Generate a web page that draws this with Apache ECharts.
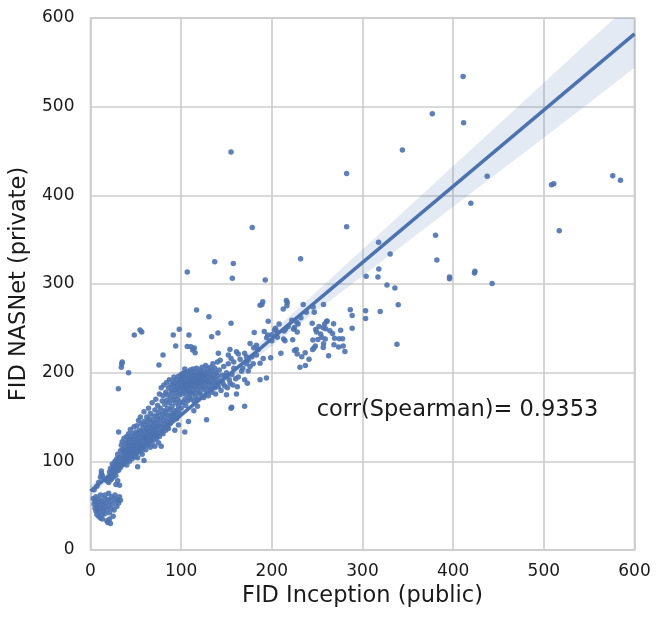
<!DOCTYPE html>
<html>
<head>
<meta charset="utf-8">
<title>FID Inception vs FID NASNet</title>
<script src="https://cdn.jsdelivr.net/npm/echarts@6/dist/echarts.min.js"></script>
<style>
  html, body { margin: 0; padding: 0; background: #fff; }
  #chart { width: 664px; height: 623px; }
</style>
</head>
<body>
<div id="chart"></div>
<script>
// points near the origin, below the start of the fit line
const originCluster = [
  [3,58],[4,52],[5,55],[5,47],[6,44],[6,60],[7,50],[7,40],[8,54],[8,46],[9,38],[9,57],[10,43],[10,50],
  [11,36],[11,62],[12,47],[12,55],[13,40],[13,35],[14,52],[14,44],[15,58],[15,48],[16,41],[16,62],
  [17,53],[18,46],[18,33],[19,57],[19,31],[20,50],[20,64],[21,35],[21,42],[22,30],[22,55],[23,47],
  [23,60],[24,52],[25,38],[26,45],[26,58],[27,62],[28,55],[29,49],[30,57],[31,53],[32,60],[33,56],
  [28,74],[30,78],[32,73],[12,86],[12,89],[13,84],[11,82],[18,78],[20,76],[23,80],[25,86],[15,80],
  [4,68],[7,72],[9,76]
];

// the dense band, x 20..160
const mainBand = [
  [20,82],[21,88],[22,79],[22,92],[23,85],[24,90],[24,97],[25,82],[26,94],[26,87],[27,100],[27,91],
  [28,84],[28,96],[29,103],[29,89],[30,94],[30,99],
  [30,108],[31,133],[31,90],[32,97],[32,104],[33,112],[33,93],[34,100],[34,118],[35,96],[35,107],
  [35,122],[36,103],[36,113],[37,98],[37,110],[37,126],[38,105],[38,116],[39,101],[39,120],[39,111],
  [40,107],[40,128],[40,96],
  [41,114],[41,103],[41,122],[42,109],[42,131],[42,118],[43,100],[43,112],[43,125],[44,106],[44,119],
  [44,136],[45,115],[45,109],[45,127],[46,103],[46,121],[46,113],[47,131],[47,117],[47,108],[48,124],
  [48,112],[48,139],[49,105],[49,118],[49,128],[50,114],[50,133],[50,121],
  [51,109],[51,126],[51,140],[52,117],[52,131],[52,104],[53,122],[53,113],[53,146],[54,128],[54,119],
  [54,135],[55,111],[55,124],[55,150],[56,133],[56,117],[56,142],[57,127],[57,108],[57,121],[58,138],
  [58,114],[58,130],[59,124],[59,145],[59,156],[60,119],[60,134],[60,127],[52,94],[59,101],
  [61,141],[61,113],[61,129],[62,123],[62,136],[62,150],[63,118],[63,131],[63,145],[64,127],[64,139],
  [64,160],[65,122],[65,134],[65,148],[66,116],[66,129],[66,154],[67,138],[67,125],[67,143],[68,132],
  [68,119],[68,166],[69,146],[69,128],[69,137],[70,124],[70,151],[70,141],[70,133],
  [71,129],[71,158],[71,117],[72,144],[72,136],[72,170],[73,126],[73,151],[73,139],[74,132],[74,163],
  [74,147],[75,121],[75,140],[75,155],[76,135],[76,176],[76,128],[77,149],[77,143],[77,160],[78,133],
  [78,117],[78,183],[79,153],[79,139],[79,168],[80,146],[80,131],[80,174],
  [81,157],[81,138],[81,186],[82,150],[82,164],[82,142],[83,135],[83,178],[83,155],[84,169],[84,145],
  [84,189],[85,140],[85,160],[85,175],[86,152],[86,183],[86,137],[87,166],[87,147],[87,192],[88,158],
  [88,172],[88,143],[89,180],[89,151],[89,186],[90,162],[90,147],[90,177],
  [91,190],[91,154],[91,169],[92,184],[92,150],[92,195],[93,173],[93,157],[93,188],[94,166],[94,181],
  [94,153],[95,192],[95,178],[95,148],[96,186],[96,170],[96,158],[97,196],[97,183],[97,162],[98,175],
  [98,189],[98,154],[99,192],[99,180],[99,167],[100,185],[100,198],[100,160],[93,135],[97,141],
  [101,176],[101,190],[101,194],[102,183],[102,199],[102,166],[103,188],[103,179],[103,195],[104,170],
  [104,186],[104,200],[105,191],[105,181],[105,163],[106,196],[106,175],[106,188],[107,184],[107,201],
  [107,168],[108,193],[108,179],[108,189],[109,197],[109,172],[109,185],[110,190],[110,178],[110,203],
  [104,133],[108,145],
  [111,195],[111,184],[111,170],[112,199],[112,188],[112,176],[113,192],[113,204],[113,181],[114,186],
  [114,196],[114,168],[115,201],[115,190],[115,178],[116,194],[116,184],[116,173],[117,198],[117,188],
  [117,205],[118,191],[118,180],[118,170],[119,196],[119,186],[120,200],[120,192],[120,177],[114,157],
  [118,162],
  [121,188],[121,203],[121,183],[122,197],[122,175],[122,193],[123,206],[123,186],[123,199],[124,191],
  [124,181],[125,195],[125,202],[125,172],[126,188],[126,198],[127,193],[127,183],[127,208],[128,199],
  [128,147],[128,178],[129,190],[129,204],[130,196],[130,185],[130,174],
  [131,200],[131,190],[132,206],[132,181],[133,195],[133,187],[134,202],[134,178],[135,193],[135,210],
  [136,188],[136,198],[137,183],[137,205],[138,192],[138,176],[139,200],[140,188],[140,196],[140,212],
  [141,184],[142,203],[143,191],[143,214],[144,180],[145,197],[146,188],[147,207],[148,185],[149,196],
  [150,200],[151,183],[152,210],[153,192],[154,188],[155,216],[156,198],[157,186],[158,205],[160,193],
  [155,160],[150,175]
];

// scattered points above the dense band
const upperStray = [
  [30.7,182],[34,206],[34.5,210],[35,212],[42,200],[75.5,208.6],[80,220],[48.3,242.4],[54.6,248],
  [56.5,246],[94,230],[91.3,242.4],[97.9,249],[104,204],[106.7,229.6],[110.8,229.3],[114.5,227.8],
  [112.7,225.6],[115.4,222.5],[108.6,242.4],[117,270.6],[130.6,263],[133.6,240.5],[140.6,244.6],
  [155,255.6],[187,276],[190,280],[189,277],[106.7,313.4],[137,325],[157.5,323],[156.4,306.6],
  [192.7,304.4],[178.4,363.8],[155,449],[231.7,328.4],[282.5,424.7],[282.5,364.5]
];

// thinner spread, x 140..290
const midSpread = [
  [141,222],[153.8,226],[152,220],[161,223.5],[163,221],[170,222],[172,218],[178,218],[183,220],
  [174,214],[179.5,210],[176,207],[187,210.5],[190.5,216],[166.7,201.5],[174,202],[163,195],[162,184],
  [173,188],[170,192],[187,192],[194,194],[155.7,161],[170,162],[161,176],[180.6,245.4],[191.6,246.5],
  [195.4,242.4],[194.3,239.4],[198.7,216.8],[176,233],[180,228],[183,231],[168,205],[172,210],
  [158,212],[165,215],[185,226],[200,236],[206,240],
  [216,281.5],[217,279],[212.6,271.7],[216.6,275.6],[204,250],[206,246],[203,248],[213.5,247],
  [215,249],[225,251],[224,249],[228,246],[227.5,257],[229,255],[214.5,236],[213,238],[223,237],
  [200,242.7],[210,222],[227,226],[228,221],[225,225],[236.8,222.4],[233,218],[241,215],[231,206],
  [237,208],[218,252],[222,259],[232,262],[238,268],[196,258],[208,255],
  [244.5,255.6],[248.3,248.8],[258.2,254.8],[261,258.2],[256.7,250.6],[253.8,243.5],[249.4,246],
  [245.3,236.8],[250.8,237.5],[258.9,237.9],[257,232.6],[264,247.2],[267,244.3],[269.2,238.7],
  [268.5,231.5],[274.3,238.2],[275.9,247.7],[278,238.2],[278.7,230],[280.6,224],[273.6,228.9],
  [260.4,257.8],[268.1,255.1],[246.4,227.7],[248,230],[245,226],[262.6,219],[256.7,228.5],
  [259.3,249.5],[255,240],[252,252],
  [257,277],[234.6,277],[245.6,274],[246.8,268],[286.5,271],[288.6,264.6],[288.6,250]
];

// sparse points beyond x = 290
const farPoints = [
  [303.4,269.8],[303.4,261],[319.5,269],[304,308.6],[317,308],[318,316.8],[317.7,347],[330.5,333.7],
  [327,299],[335.7,295.4],[339.4,276.6],[338,232],[344,451],[377,492],[411,534],[411.5,482],
  [437.5,421.6],[508.5,412],[511,413],[576,422],[584.5,417],[419.5,391],[517,360],[380.6,355],
  [382,327],[396,308],[396,306],[424,314.5],[423.5,312.5],[443,300.7]
];

// fitted line and its confidence band
const fitLine = [[0, 66.5], [600, 582]];
const ciX     = [0, 50, 100, 150, 200, 250, 300, 350, 400, 450, 500, 550, 600];
const ciUpper = [73, 113, 155, 199, 246, 292, 339, 386, 433, 480, 527, 574, 620];
const ciLower = [60, 106, 149, 191, 230, 270, 309, 348, 387, 426, 465, 504, 544];

const xTicks = [0, 100, 200, 300, 400, 500, 600];
const yTicks = [0, 100, 200, 300, 400, 500, 600];

const annotationAt = [249.5, 158];
const annotationText = 'corr(Spearman)= 0.9353';

const BLUE = '#4C72B0';
const INK = '#1a1a1a';
const FONT = '"DejaVu Sans", sans-serif';

const points = [].concat(originCluster, mainBand, upperStray, midSpread, farPoints);

const chart = echarts.init(document.getElementById('chart'), null, { renderer: 'canvas' });

chart.setOption({
  animation: false,
  grid: {
    left: 90.5, right: 29.5, top: 18, bottom: 73,
    show: true, borderColor: '#cccccc', borderWidth: 1.6, backgroundColor: '#fff'
  },
  xAxis: {
    type: 'value',
    min: xTicks[0], max: xTicks[xTicks.length - 1], interval: 100,
    name: 'FID Inception (public)',
    nameLocation: 'middle', nameGap: 35,
    nameTextStyle: { fontFamily: FONT, fontSize: 22.5, color: INK, opacity: 1 },
    axisLine: { show: false },
    axisTick: { show: false },
    axisLabel: { fontFamily: FONT, fontSize: 17, color: INK, opacity: 1, margin: 13 },
    splitLine: { lineStyle: { color: '#cccccc', width: 1.6 } }
  },
  yAxis: {
    type: 'value',
    min: yTicks[0], max: yTicks[yTicks.length - 1], interval: 100,
    name: 'FID NASNet (private)',
    nameLocation: 'middle', nameGap: 53,
    nameTextStyle: { fontFamily: FONT, fontSize: 22.5, color: INK, opacity: 1 },
    axisLine: { show: false },
    axisTick: { show: false },
    axisLabel: { fontFamily: FONT, fontSize: 17, color: INK, opacity: 1, margin: 16 },
    splitLine: { lineStyle: { color: '#cccccc', width: 1.6 } }
  },
  series: [
    {
      type: 'scatter',
      data: points,
      symbolSize: 5.5,
      itemStyle: { color: BLUE, opacity: 0.9 },
      emphasis: { disabled: true },
      z: 2
    },
    {
      // confidence band as one polygon through the axes
      type: 'custom',
      clip: true,
      data: [0],
      z: 3,
      silent: true,
      renderItem: function (params, api) {
        const pts = [];
        for (let i = 0; i < ciX.length; i++) {
          pts.push(api.coord([ciX[i], ciUpper[i]]));
        }
        for (let i = ciX.length - 1; i >= 0; i--) {
          pts.push(api.coord([ciX[i], ciLower[i]]));
        }
        return {
          type: 'polygon',
          shape: { points: pts },
          style: { fill: 'rgba(76,114,176,0.15)', stroke: null }
        };
      }
    },
    {
      type: 'line',
      data: fitLine,
      showSymbol: false,
      lineStyle: { color: BLUE, width: 3.5 },
      silent: true,
      z: 4
    },
    {
      type: 'scatter',
      data: [annotationAt],
      symbolSize: 0,
      silent: true,
      z: 5,
      label: {
        show: true,
        position: 'right',
        distance: 0,
        formatter: annotationText,
        fontFamily: FONT,
        fontSize: 22.5,
        color: INK,
        opacity: 1
      }
    }
  ]
});
</script>
</body>
</html>
